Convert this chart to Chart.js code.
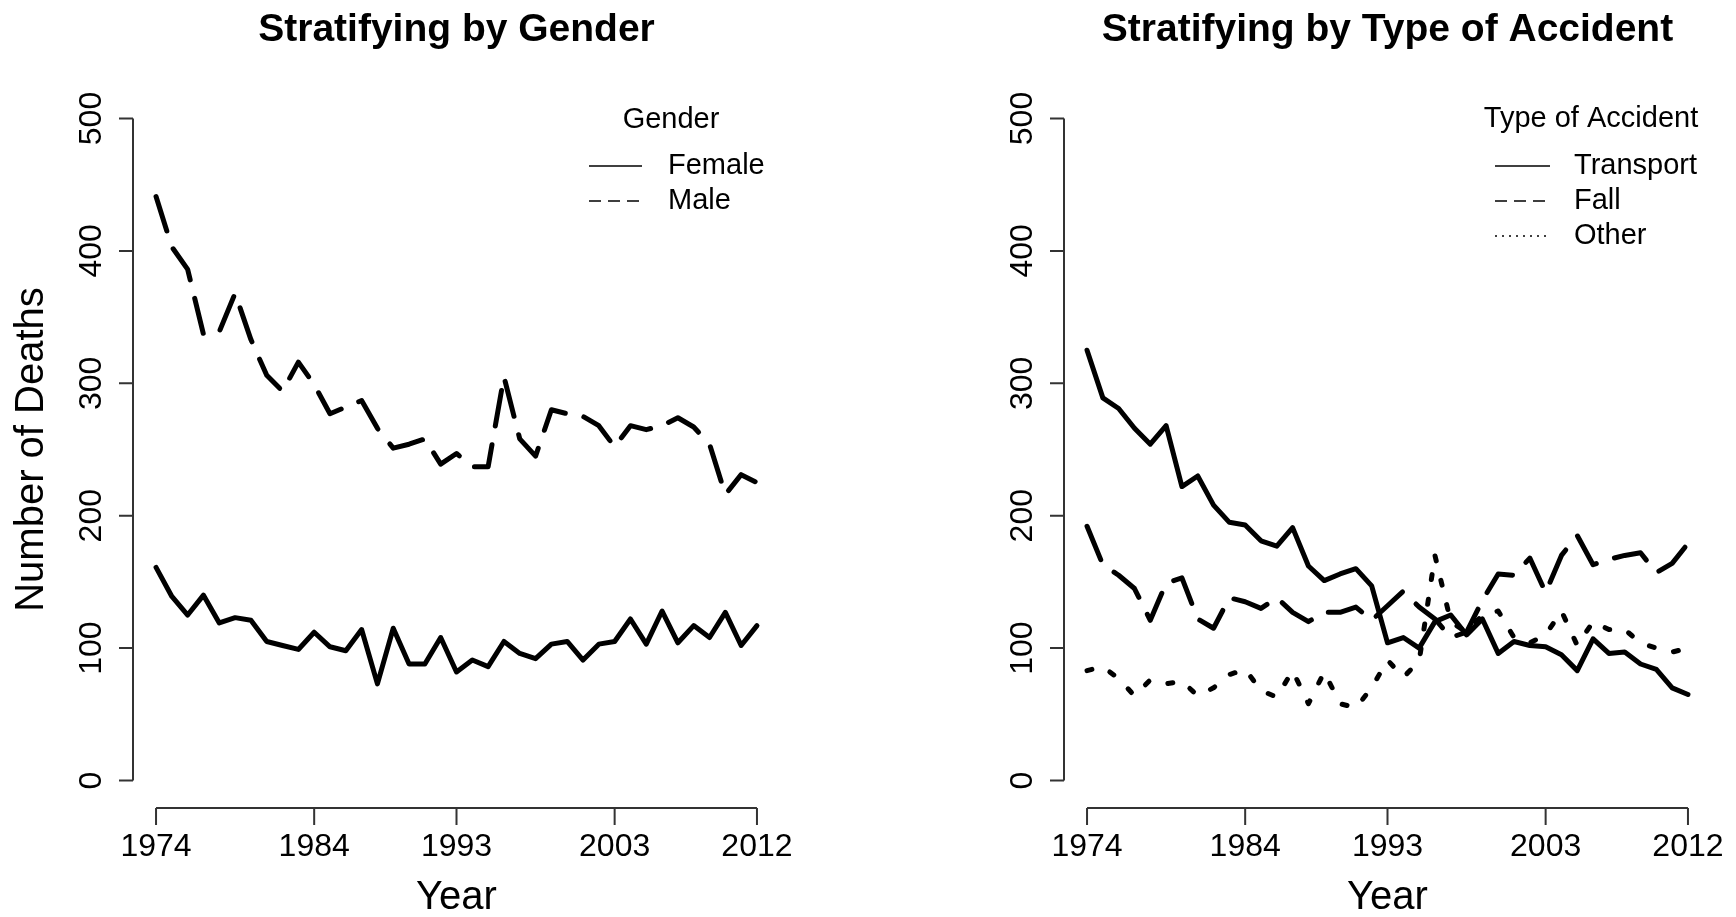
<!DOCTYPE html>
<html><head><meta charset="utf-8">
<script src="https://cdn.jsdelivr.net/npm/chart.js@4.4.1/dist/chart.umd.min.js"></script>
<style>
html,body{margin:0;padding:0;background:#fff;width:1736px;height:917px;overflow:hidden}
canvas{position:absolute;top:0}
#c1{left:0}#c2{left:868px}
</style></head><body>
<canvas id="c1" width="868" height="917"></canvas>
<canvas id="c2" width="868" height="917"></canvas>
<script>
// ---- data ----
const years = [1974,1975,1976,1977,1978,1979,1980,1981,1982,1983,1984,1985,1986,1987,1988,1989,1990,1991,1992,1993,1994,1995,1996,1997,1998,1999,2000,2001,2002,2003,2004,2005,2006,2007,2008,2009,2010,2011,2012];
const female = [161,139,125,140,119,123,121,105,102,99,112,101,98,114,73,115,88,88,108,82,91,86,105,96,92,103,105,91,103,105,122,103,128,104,117,108,127,102,117];
const male = [441,403,386,337,339,368,333,306,294,316,299,277,282,287,266,251,254,258,239,247,237,237,305,258,245,280,277,275,268,252,268,265,268,274,267,254,216,231,225];
const transport = [325,289,281,266,254,268,222,230,208,195,193,181,177,191,162,151,156,160,147,104,108,100,120,125,110,122,96,105,102,101,95,83,107,96,97,88,84,70,65];
const fall = [192,163,155,145,121,149,153,122,115,138,135,130,138,127,120,127,127,131,121,132,143,131,122,108,112,136,156,155,168,142,170,185,163,167,170,172,157,164,179];
const other = [83,86,77,64,76,73,75,64,70,80,84,68,63,83,58,82,58,55,70,91,78,90,170,120,112,125,128,108,104,110,128,102,120,114,114,104,100,97,100];
const xTicks = [1974,1984,1993,2003,2012];
const yTicks = [0,100,200,300,400,500];
const genderLabels = ['Female','Male'];
const accidentLabels = ['Transport','Fall','Other'];

const FONT = '"Liberation Sans", Arial, Helvetica, sans-serif';
const DASHED = [36,19], DOTTED = [5,20];
const LEG_DASH = {solid: [], dashed: [12,7], dotted: [2,5]};

const rAxes = {
  id: 'rAxes',
  afterDraw(chart, args, o) {
    const ctx = chart.ctx, xs = chart.scales.x, ys = chart.scales.y, a = chart.chartArea;
    ctx.save();
    ctx.strokeStyle = '#333'; ctx.lineWidth = 2; ctx.lineCap = 'butt'; ctx.setLineDash([]);
    const xy = a.bottom + 1;
    ctx.beginPath();
    ctx.moveTo(xs.getPixelForValue(xTicks[0]), xy);
    ctx.lineTo(xs.getPixelForValue(xTicks[xTicks.length-1]), xy);
    for (const t of xTicks) { const p = xs.getPixelForValue(t); ctx.moveTo(p, xy); ctx.lineTo(p, xy + 17); }
    const yx = a.left + 1;
    ctx.moveTo(yx, ys.getPixelForValue(yTicks[0]));
    ctx.lineTo(yx, ys.getPixelForValue(yTicks[yTicks.length-1]));
    for (const t of yTicks) { const p = ys.getPixelForValue(t); ctx.moveTo(yx, p); ctx.lineTo(yx - 14, p); }
    ctx.stroke();

    ctx.fillStyle = '#000'; ctx.textAlign = 'center'; ctx.textBaseline = 'middle';
    ctx.font = '32px ' + FONT;
    for (const t of xTicks) ctx.fillText(String(t), xs.getPixelForValue(t), 847);
    ctx.font = '32px ' + FONT;
    for (const t of yTicks) {
      ctx.save(); ctx.translate(a.left - 40, ys.getPixelForValue(t)); ctx.rotate(-Math.PI/2);
      ctx.fillText(String(t), 0, 0); ctx.restore();
    }
    ctx.font = '40px ' + FONT;
    const cx = (a.left + a.right) / 2;
    ctx.fillText(o.xTitle, cx, 898);
    if (o.yTitle) {
      ctx.save(); ctx.translate(32, (a.top + a.bottom) / 2); ctx.rotate(-Math.PI/2);
      ctx.fillText(o.yTitle, 0, 0); ctx.restore();
    }
    ctx.font = 'bold 39px ' + FONT;
    ctx.fillText(o.title, cx, 30);

    // legend
    const L = o.legend;
    ctx.font = '29px ' + FONT;
    ctx.fillText(L.title, L.titleX, L.titleY);
    ctx.textAlign = 'left';
    chart.data.datasets.forEach((ds, i) => {
      const y = L.rows[i];
      ctx.save();
      ctx.strokeStyle = '#000'; ctx.lineWidth = 1.6; ctx.lineCap = 'butt';
      ctx.setLineDash(LEG_DASH[L.styles[i]]);
      ctx.beginPath(); ctx.moveTo(L.x0, y); ctx.lineTo(L.x1, y); ctx.stroke();
      ctx.restore();
      ctx.fillText(ds.label, L.textX, y);
    });
    ctx.restore();
  }
};

function makeDataset(label, values, dash) {
  return {
    label,
    data: years.map((yr, i) => ({x: yr, y: values[i]})),
    borderColor: '#000', backgroundColor: '#000', borderWidth: 5,
    borderDash: dash, borderCapStyle: 'round', borderJoinStyle: 'round',
    pointRadius: 0, tension: 0, fill: false
  };
}

function makeChart(id, datasets, padLeft, padRight, pluginOpts) {
  return new Chart(document.getElementById(id), {
    type: 'line',
    data: { datasets },
    options: {
      responsive: false, animation: false, devicePixelRatio: 1,
      layout: { padding: { left: padLeft, right: padRight, top: 92, bottom: 110 } },
      scales: {
        x: { type: 'linear', min: 1972.48, max: 2013.52, display: false },
        y: { type: 'linear', min: -20, max: 520, display: false }
      },
      plugins: { legend: { display: false }, tooltip: { enabled: false }, rAxes: pluginOpts }
    },
    plugins: [rAxes]
  });
}

makeChart('c1', [
  makeDataset(genderLabels[0], female, []),
  makeDataset(genderLabels[1], male, DASHED)
], 132, 87, {
  title: 'Stratifying by Gender', xTitle: 'Year', yTitle: 'Number of Deaths',
  legend: { title: 'Gender', titleX: 671, titleY: 120, x0: 589, x1: 642, textX: 668, rows: [166, 201], styles: ['solid','dashed'] }
});

makeChart('c2', [
  makeDataset(accidentLabels[0], transport, []),
  makeDataset(accidentLabels[1], fall, DASHED),
  makeDataset(accidentLabels[2], other, DOTTED)
], 195, 24, {
  title: 'Stratifying by Type of Accident', xTitle: 'Year', yTitle: '',
  legend: { title: 'Type of Accident', titleX: 723, titleY: 119, x0: 627, x1: 682, textX: 706, rows: [166, 201, 236], styles: ['solid','dashed','dotted'] }
});
</script>
</body></html>
